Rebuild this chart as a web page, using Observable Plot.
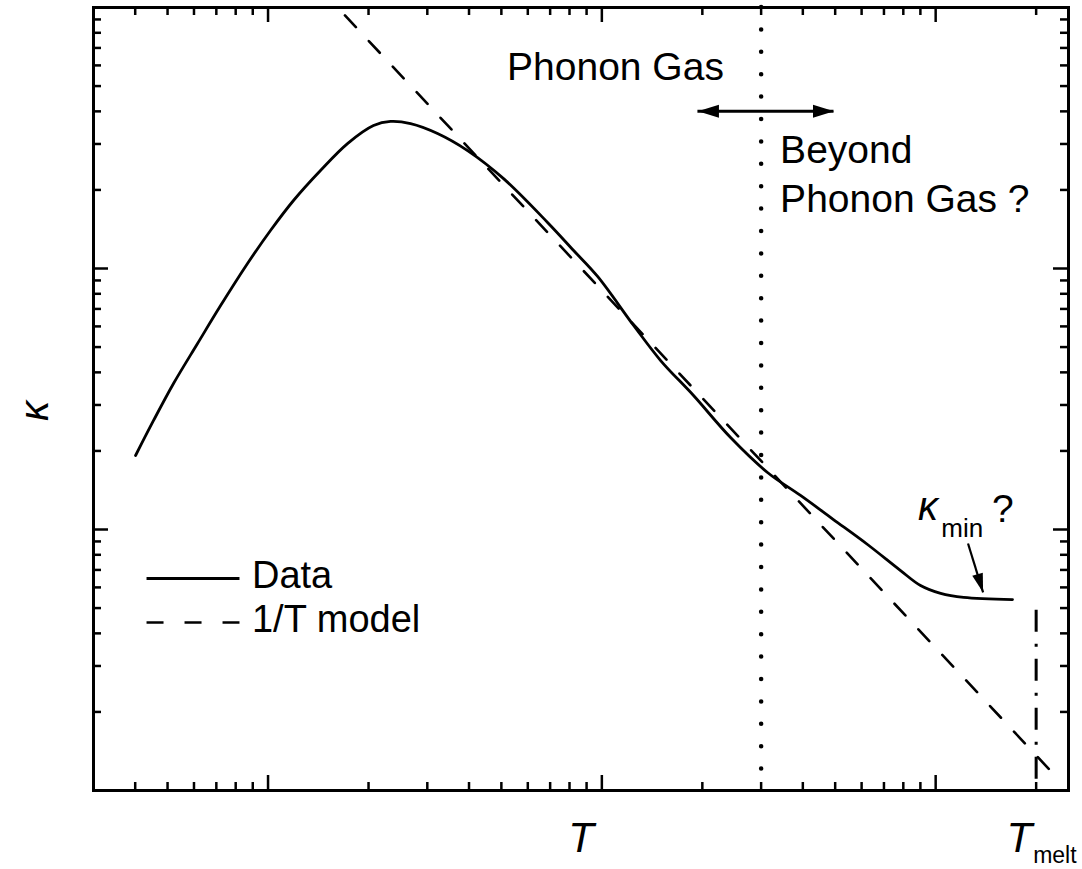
<!DOCTYPE html>
<html><head><meta charset="utf-8">
<script src="https://cdn.jsdelivr.net/npm/d3@7"></script>
<script src="https://cdn.jsdelivr.net/npm/@observablehq/plot@0.6"></script>
<style>
body{margin:0;background:#fff;}
#chart{width:1082px;height:869px;}
#chart svg{display:block;overflow:visible;}
</style>
</head><body><div id="chart"></div>
<script>
// ---- data (arbitrary units, log-log) ----
const dataT = [0.401, 0.454, 0.521, 0.615, 0.721, 0.868, 1.017, 1.192, 1.436, 1.730, 2.070, 2.328, 2.673, 3.219, 3.960, 5.076, 6.876, 8.23, 9.71, 12.45, 15.0, 18.82, 24.3, 31.35, 39.37, 49.4, 62.5, 78.5, 90.1, 103.5, 121.3, 169.9];
const dataKappa = [1.921, 2.617, 3.626, 5.16, 7.21, 10.45, 13.98, 18.22, 23.74, 30.1, 35.3, 36.6, 35.9, 32.9, 28.3, 22.1, 15.01, 11.72, 9.32, 6.05, 4.44, 3.26, 2.25, 1.654, 1.350, 1.092, 0.876, 0.696, 0.610, 0.569, 0.549, 0.539];
const modelT = [1.70, 225];
const modelKappa = [93.2, 0.116];

// ---- axis ticks (no numeric labels in the reference) ----
const xMajorTicks = [1, 10, 100];
const xMinorTicks = [0.4, 0.5, 0.6, 0.7, 0.8, 0.9, 2, 3, 4, 5, 6, 7, 8, 9, 20, 30, 40, 50, 60, 70, 80, 90, 200];
const yMajorTicks = [1, 10];
const yMinorTicks = [0.2, 0.3, 0.4, 0.5, 0.6, 0.7, 0.8, 0.9, 2, 3, 4, 5, 6, 7, 8, 9, 20, 30, 40, 50, 60, 70, 80, 90];
const xDomain = [0.3, 250];
const yDomain = [0.1, 100];

// ---- annotations ----
const boundaryT = [30];
const meltT = [200];
const meltLineKappa = [0.49, 0.1];
const regionLabels = ["Phonon Gas", "Beyond", "Phonon Gas ?"];
const regionLabelT = [5.2, 34.2, 34.2];
const regionLabelKappa = [58.9, 28.2, 18.3];
const arrowT = [19.4, 49.6];
const arrowKappa = [40];
const legendLabels = ["Data", "1/T model"];
const legendKappa = [0.649, 0.440];
const legendLineT = [0.434, 0.824];
const legendTextT = [0.895];
const kminArrowT = [125, 138.7];
const kminArrowKappa = [0.884, 0.574];
const kminLabelT = [88.6, 104, 147.6];
const kminLabelKappa = [1.214, 1.003, 1.193];

// ---- layout ----
const W = 1082, H = 869, mL = 93, mR = 14, mT = 7, mB = 79;
const innerW = W - mL - mR, innerH = H - mT - mB;
const FONT = "'Liberation Sans', Arial, Helvetica, sans-serif";
const majorLen = 15, minorLen = 8, tickW = 2.5;

const head = (len, wid) => ({
  draw(ctx) { ctx.moveTo(0, 0); ctx.lineTo(-wid / 2, len); ctx.lineTo(wid / 2, len); ctx.closePath(); }
});

const curve = dataT.map((t, i) => ({T: t, k: dataKappa[i]}));
const model = modelT.map((t, i) => ({T: t, k: modelKappa[i]}));

const tickMarks = [];
for (const [vals, len] of [[xMajorTicks, majorLen], [xMinorTicks, minorLen]]) {
  tickMarks.push(Plot.tickX(vals, {x: d => d, insetTop: innerH - len, strokeWidth: tickW}));
  tickMarks.push(Plot.tickX(vals, {x: d => d, insetBottom: innerH - len, strokeWidth: tickW}));
}
for (const [vals, len] of [[yMajorTicks, majorLen], [yMinorTicks, minorLen]]) {
  tickMarks.push(Plot.tickY(vals, {y: d => d, insetRight: innerW - len, strokeWidth: tickW}));
  tickMarks.push(Plot.tickY(vals, {y: d => d, insetLeft: innerW - len, strokeWidth: tickW}));
}

const chart = Plot.plot({
  width: W, height: H,
  marginLeft: mL, marginRight: mR, marginTop: mT, marginBottom: mB,
  style: {fontFamily: FONT, background: "#fff", color: "#000", overflow: "visible"},
  x: {type: "log", domain: xDomain, axis: null},
  y: {type: "log", domain: yDomain, axis: null},
  marks: [
    // boundary lines
    Plot.ruleX(boundaryT, {x: d => d, stroke: "#000", strokeWidth: 4.5, strokeDasharray: "0,22.4", strokeLinecap: "round"}),
    Plot.ruleX(meltT, {x: d => d, y1: meltLineKappa[0], y2: meltLineKappa[1], stroke: "#000", strokeWidth: 3, strokeDasharray: "22,12,3,12"}),
    // model & data
    Plot.line(model, {x: "T", y: "k", stroke: "#000", strokeWidth: 2.6, strokeDasharray: "16,19"}),
    Plot.line(curve, {x: "T", y: "k", stroke: "#000", strokeWidth: 2.8, curve: "catmull-rom"}),
    // double arrow
    Plot.ruleY(arrowKappa, {y: d => d, x1: arrowT[0], x2: arrowT[1], stroke: "#000", strokeWidth: 3}),
    Plot.dot([arrowT[0]], {x: d => d, y: arrowKappa[0], symbol: head(21, 13), rotate: -90, fill: "#000", stroke: "none"}),
    Plot.dot([arrowT[1]], {x: d => d, y: arrowKappa[0], symbol: head(21, 13), rotate: 90, fill: "#000", stroke: "none"}),
    // region labels
    Plot.text(regionLabels, {x: (d, i) => regionLabelT[i], y: (d, i) => regionLabelKappa[i], text: d => d, textAnchor: "start", lineAnchor: "middle", fontSize: 39, fill: "#000"}),
    // kappa_min annotation
    Plot.link([0], {x1: kminArrowT[0], y1: kminArrowKappa[0], x2: kminArrowT[1], y2: kminArrowKappa[1], stroke: "#000", strokeWidth: 2.2}),
    Plot.dot([kminArrowT[1]], {x: d => d, y: kminArrowKappa[1], symbol: head(19, 11), rotate: 163, fill: "#000", stroke: "none"}),
    Plot.text(["κ"], {x: kminLabelT[0], y: kminLabelKappa[0], textAnchor: "start", lineAnchor: "middle", fontSize: 40, fontStyle: "italic", fill: "#000"}),
    Plot.text(["min"], {x: kminLabelT[1], y: kminLabelKappa[1], textAnchor: "start", lineAnchor: "middle", fontSize: 26, fill: "#000"}),
    Plot.text(["?"], {x: kminLabelT[2], y: kminLabelKappa[2], textAnchor: "start", lineAnchor: "middle", fontSize: 39, fill: "#000"}),
    // legend
    Plot.ruleY([legendKappa[0]], {y: d => d, x1: legendLineT[0], x2: legendLineT[1], stroke: "#000", strokeWidth: 2.8}),
    Plot.ruleY([legendKappa[1]], {y: d => d, x1: legendLineT[0], x2: legendLineT[1], stroke: "#000", strokeWidth: 2.6, strokeDasharray: "17,21"}),
    Plot.text(legendLabels, {x: legendTextT[0], y: (d, i) => legendKappa[i], dy: -3, text: d => d, textAnchor: "start", lineAnchor: "middle", fontSize: 38, fill: "#000"}),
    // axis titles
    Plot.text(["T"], {frameAnchor: "bottom", dy: 48, lineAnchor: "middle", fontSize: 42, fontStyle: "italic", fill: "#000"}),
    Plot.text(meltT, {x: d => d, frameAnchor: "bottom", text: () => "T", dx: -4, dy: 48, textAnchor: "end", lineAnchor: "middle", fontSize: 42, fontStyle: "italic", fill: "#000"}),
    Plot.text(meltT, {x: d => d, frameAnchor: "bottom", text: () => "melt", dx: -3, dy: 65, textAnchor: "start", lineAnchor: "middle", fontSize: 23, fill: "#000"}),
    Plot.text(["κ"], {frameAnchor: "left", dx: -58, dy: 22, rotate: -90, lineAnchor: "middle", fontSize: 40, fontStyle: "italic", fill: "#000"}),
    // axes
    ...tickMarks,
    Plot.frame({stroke: "#000", strokeWidth: 3})
  ]
});
document.getElementById("chart").appendChild(chart);
</script>
</body></html>
